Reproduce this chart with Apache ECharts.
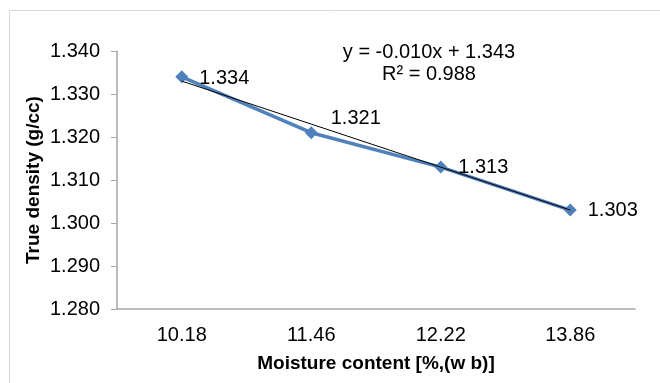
<!DOCTYPE html>
<html><head><meta charset="utf-8">
<script src="https://cdn.jsdelivr.net/npm/echarts@6/dist/echarts.min.js"></script>
<style>html,body{margin:0;padding:0;background:#fff}#c{width:660px;height:383px}</style>
</head><body><div id="c"></div>
<script>
var categories = ['10.18', '11.46', '12.22', '13.86'];
var densityValues = [1.334, 1.321, 1.313, 1.303];
var trendValues = [1.333, 1.323, 1.313, 1.303];
var yTicks = { min: 1.28, max: 1.34, step: 0.01 };
var equationText = 'y = -0.010x + 1.343';
var r2Text = 'R² = 0.988';

var FONT = '"Liberation Sans", Arial, sans-serif';
var labelOffsets = [[0, 2], [2, -14], [0, 0], [0, 0]];
var chart = echarts.init(document.getElementById('c'), null, {renderer: 'canvas'});
chart.setOption({
  animation: false,
  backgroundColor: '#fff',
  grid: { left: 117, right: 25, top: 51, bottom: 74 },
  graphic: [
    { type: 'rect', shape: { x: 9.5, y: 10.5, width: 700, height: 400 }, style: { fill: 'none', stroke: '#d9d9d9', lineWidth: 1 }, silent: true, z: 0 },
    { type: 'text', x: 429, y: 52, style: { text: equationText, font: '20px ' + FONT, fill: '#000', align: 'center', verticalAlign: 'middle' } },
    { type: 'text', x: 429, y: 74, style: { text: r2Text, font: '20px ' + FONT, fill: '#000', align: 'center', verticalAlign: 'middle' } }
  ],
  xAxis: {
    type: 'category', data: categories, boundaryGap: true,
    axisLine: { lineStyle: { color: '#a6a6a6', width: 1.5 } },
    axisTick: { show: false },
    axisLabel: { color: '#000', fontFamily: FONT, fontSize: 20, margin: 16 },
    name: 'Moisture content [%,(w b)]', nameLocation: 'middle', nameGap: 45, nameMoveOverlap: false,
    nameTextStyle: { color: '#000', fontFamily: FONT, fontSize: 19, fontWeight: 'bold' }
  },
  yAxis: {
    type: 'value', min: yTicks.min, max: yTicks.max, interval: yTicks.step,
    axisLine: { show: true, lineStyle: { color: '#a6a6a6', width: 1.5 } },
    axisTick: { show: true, length: 6, lineStyle: { color: '#a6a6a6' } },
    splitLine: { show: false },
    axisLabel: { color: '#000', fontFamily: FONT, fontSize: 20, margin: 17, formatter: function (v) { return v.toFixed(3); } },
    name: 'True density (g/cc)', nameLocation: 'middle', nameGap: 74, nameRotate: 90, nameMoveOverlap: false,
    nameTextStyle: { color: '#000', fontFamily: FONT, fontSize: 19, fontWeight: 'bold' }
  },
  series: [
    {
      type: 'line', data: densityValues.map(function (v, i) {
        return { value: v, label: { offset: labelOffsets[i] } };
      }),
      symbol: 'diamond', symbolSize: 13,
      lineStyle: { color: '#4f81bd', width: 3.5 },
      itemStyle: { color: '#4f81bd' },
      label: { show: true, position: 'right', distance: 11, color: '#000', fontFamily: FONT, fontSize: 20, formatter: function (p) { return p.value.toFixed(3); } },
      z: 2
    },
    {
      type: 'line', data: trendValues, symbol: 'none',
      lineStyle: { color: '#000', width: 1 }, z: 3, silent: true
    }
  ]
});
</script></body></html>
